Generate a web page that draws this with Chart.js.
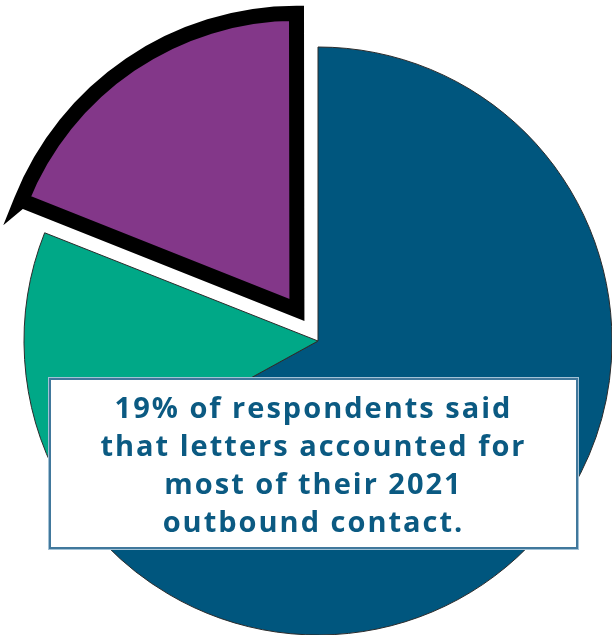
<!DOCTYPE html>
<html>
<head>
<meta charset="utf-8">
<script src="https://cdn.jsdelivr.net/npm/chart.js@4"></script>
<style>
  html, body { margin: 0; padding: 0; background: #fff; }
  .wrap { position: relative; width: 612px; height: 635px; overflow: hidden; }
  .note {
    position: absolute; left: 49px; top: 378px; width: 525px; height: 167px;
    background: #fff; border: 2px solid #41789c; box-shadow: 0 0 0 1px #a3c2d6;
    display: flex; align-items: center; justify-content: center; text-align: center;
    font-family: "Open Sans", sans-serif; font-weight: 700; font-size: 29px;
    letter-spacing: 2px; line-height: 38px; color: #0b5a82;
  }
</style>
</head>
<body>
<div class="wrap">
  <canvas class="chart" width="612" height="635"></canvas>
  <div class="note">19% of respondents said<br>that letters accounted for<br>most of their 2021<br>outbound contact.</div>
</div>
<script>
// data
const labels = ['Other', 'Other channels', 'Letters'];
const shares = [67, 14, 19];

// looks
const fills = ['#00567e', '#00a887', '#833789'];
const borders = ['#2b2b2b', '#2b2b2b', '#000000'];
const borderWidths = [1, 1, 15];
const offsets = [0, 0, 150];

const chart = new Chart(document.querySelector('.chart').getContext('2d'), {
  type: 'pie',
  data: {
    labels: labels,
    datasets: [{
      data: shares,
      backgroundColor: fills,
      borderColor: borders,
      borderWidth: borderWidths,
      borderJoinStyle: 'miter',
      offset: offsets,
      radius: 294,
      clip: false,
    }]
  },
  options: {
    responsive: false,
    devicePixelRatio: 1,
    animation: false,
    layout: { padding: { left: 24, top: 47, right: 0, bottom: 0 } },
    plugins: {
      legend: { display: false },
      tooltip: { enabled: false }
    }
  }
});
</script>
</body>
</html>
